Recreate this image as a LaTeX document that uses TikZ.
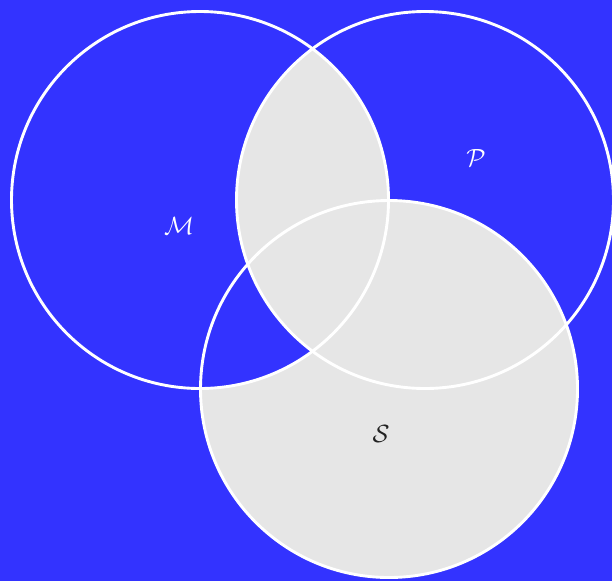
\documentclass[tikz,border=0pt]{standalone}
\definecolor{bgblue}{HTML}{3333FF}
\definecolor{setgray}{HTML}{E6E6E6}
\definecolor{darktext}{HTML}{222222}
\tikzset{
  setline/.style={draw=white, line width=2.9pt},
  setlabel/.style={font=\fontsize{27}{27}\selectfont, inner sep=0pt}
}
\begin{document}
\begin{tikzpicture}[x=1pt,y=-1pt]
\fill[bgblue] (0,0) rectangle (612,581);
\useasboundingbox (0,0) rectangle (612,581);
\coordinate (cM) at (200,200);
\coordinate (cP) at (425,200);
\coordinate (cS) at (389,389);
\def\rad{188.5}
% S gray
\fill[setgray] (cS) circle[radius=\rad];
% M cap S blue, then M cap P gray
\begin{scope}
  \clip (cM) circle[radius=\rad];
  \fill[bgblue] (cS) circle[radius=\rad];
  \clip (cP) circle[radius=\rad];
  \fill[setgray] (cM) circle[radius=\rad];
\end{scope}
\draw[setline] (cM) circle[radius=\rad];
\draw[setline] (cP) circle[radius=\rad];
\draw[setline] (cS) circle[radius=\rad];
\node[setlabel, text=white] (lM) at (179,226) {$\mathcal{M}$};
\node[setlabel, text=white] (lP) at (476,158) {$\mathcal{P}$};
\node[setlabel, text=darktext] (lS) at (381,434) {$\mathcal{S}$};
\end{tikzpicture}
\end{document}
